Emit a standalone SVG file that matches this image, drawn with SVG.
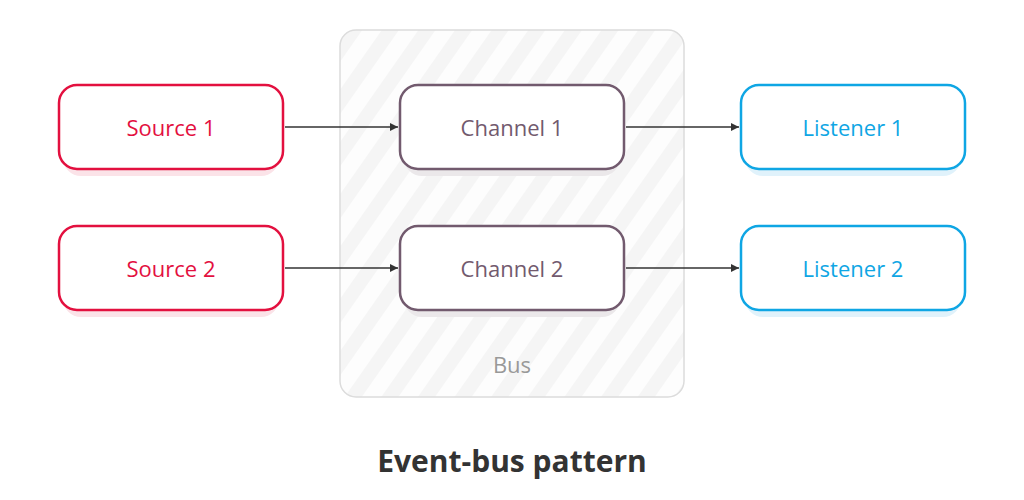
<svg xmlns="http://www.w3.org/2000/svg" width="1024" height="500" viewBox="0 0 1024 500">
<style>
.lbl{font-family:"Open Sans","Liberation Sans",sans-serif;font-size:22px;text-anchor:middle;dominant-baseline:central}
.box{fill:#fff;stroke-width:2.5}
.src .box{stroke:#e3103f}.src text{fill:#e3103f}.src .sh{fill:#fbe3e8}
.ch .box{stroke:#725a6e}.ch text{fill:#725a6e}.ch .sh{fill:#ebe8ea}
.ls .box{stroke:#0fa6e4}.ls text{fill:#0fa6e4}.ls .sh{fill:#e0f2fb}
.conn line{stroke:#333;stroke-width:1.5}
</style>
<defs>
<pattern id="stripes" patternUnits="userSpaceOnUse" width="30" height="30" patternTransform="rotate(35)">
<rect width="30" height="30" fill="#fdfdfd"/>
<rect width="14" height="30" fill="#f5f5f5"/>
</pattern>
<marker id="arr" viewBox="0 0 10 10" refX="10" refY="5" markerWidth="11" markerHeight="8" markerUnits="userSpaceOnUse" orient="auto">
<path d="M0,0 L10,5 L0,10 z" fill="#333"/>
</marker>
</defs>
<rect width="1024" height="500" fill="#fff"/>
<g id="bus">
<rect x="340" y="30" width="344" height="367" rx="16" fill="url(#stripes)" stroke="#dcdcdc" stroke-width="1.5"/>
<text class="lbl" x="512" y="364" fill="#999">Bus</text>
</g>
<g id="source1" class="src">
<rect class="sh" x="63" y="92" width="216" height="84" rx="18"/>
<rect class="box" x="59" y="85" width="224" height="84" rx="18"/>
<text class="lbl" x="171" y="127">Source 1</text>
</g>
<g id="source2" class="src">
<rect class="sh" x="63" y="233" width="216" height="84" rx="18"/>
<rect class="box" x="59" y="226" width="224" height="84" rx="18"/>
<text class="lbl" x="171" y="268">Source 2</text>
</g>
<g id="channel1" class="ch">
<rect class="sh" x="404" y="92" width="216" height="84" rx="18"/>
<rect class="box" x="400" y="85" width="224" height="84" rx="18"/>
<text class="lbl" x="512" y="127">Channel 1</text>
</g>
<g id="channel2" class="ch">
<rect class="sh" x="404" y="233" width="216" height="84" rx="18"/>
<rect class="box" x="400" y="226" width="224" height="84" rx="18"/>
<text class="lbl" x="512" y="268">Channel 2</text>
</g>
<g id="listener1" class="ls">
<rect class="sh" x="745" y="92" width="216" height="84" rx="18"/>
<rect class="box" x="741" y="85" width="224" height="84" rx="18"/>
<text class="lbl" x="853" y="127">Listener 1</text>
</g>
<g id="listener2" class="ls">
<rect class="sh" x="745" y="233" width="216" height="84" rx="18"/>
<rect class="box" x="741" y="226" width="224" height="84" rx="18"/>
<text class="lbl" x="853" y="268">Listener 2</text>
</g>
<g id="connectors" class="conn">
<line x1="285" y1="127" x2="398" y2="127" marker-end="url(#arr)"/>
<line x1="626" y1="127" x2="739" y2="127" marker-end="url(#arr)"/>
<line x1="285" y1="268" x2="398" y2="268" marker-end="url(#arr)"/>
<line x1="626" y1="268" x2="739" y2="268" marker-end="url(#arr)"/>
</g>
<text x="512" y="460" font-family="'Open Sans','Liberation Sans',sans-serif" font-size="30" font-weight="bold" fill="#333" text-anchor="middle" dominant-baseline="central">Event-bus pattern</text>
</svg>
